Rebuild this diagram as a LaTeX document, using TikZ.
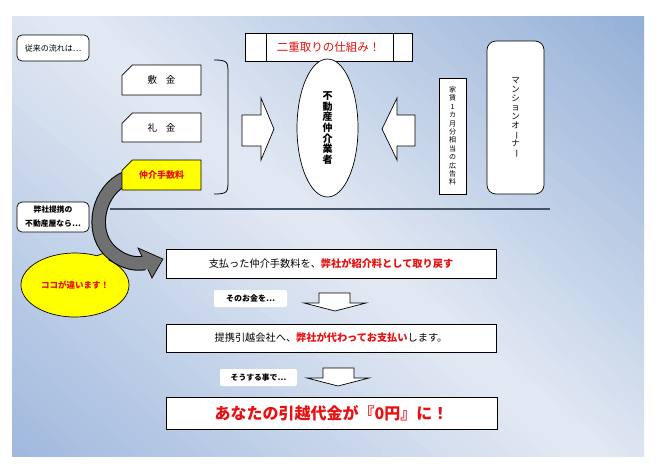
\documentclass[tikz,border=0pt]{standalone}
\usepackage{fontspec}
\usepackage{graphicx}
\setmainfont{Noto Sans CJK JP}
\usetikzlibrary{shapes.misc,shapes.callouts,shapes.geometric}
\definecolor{jred}{RGB}{232,16,16}
\definecolor{bgtop}{RGB}{146,175,214}
\definecolor{bgmid}{RGB}{228,234,244}
\definecolor{bgbot}{RGB}{158,184,221}
\definecolor{linegray}{RGB}{70,84,104}
\definecolor{arrowgray}{RGB}{112,112,112}
\definecolor{hiyellow}{RGB}{255,255,0}
\newcommand{\vbar}{\rotatebox[origin=c]{-90}{ー}}
\newcommand{\fs}[2]{\fontsize{#1}{#2}\selectfont}
\tikzset{
  box/.style={draw=black, fill=white, line width=0.7pt, inner sep=0pt, align=center},
  rbox/.style={box, rounded corners=5pt},
  chbox/.style={box, chamfered rectangle, chamfered rectangle corners=north west,
    chamfered rectangle xsep=15pt, chamfered rectangle ysep=6pt},
  tagbox/.style={fill=white, rounded corners=2pt, inner sep=0pt, align=center},
  blockarrow/.style={draw=black, fill=white, line width=0.7pt, line join=miter},
}
\begin{document}
\begin{tikzpicture}[x=1pt,y=-1pt]
\useasboundingbox (0,0) rectangle (660,467);
% background gradient drawn as strips
\begin{scope}
\clip (12,16) rectangle (644,456);
\foreach \i in {0,...,79}{
  \pgfmathsetmacro{\ta}{-400+10*\i}
  \pgfmathsetmacro{\tb}{\ta+11}
  \pgfmathsetmacro{\tm}{\ta+5}
  \pgfmathtruncatemacro{\p}{max(0,100-abs(\tm)/3.8)}
  \ifdim \tm pt<0pt \colorlet{stripc}{bgmid!\p!bgbot}\else\colorlet{stripc}{bgmid!\p!bgtop}\fi
  \fill[stripc] ({328+\ta*0.643-383},{236-\ta*0.766-321.5}) -- ({328+\ta*0.643+383},{236-\ta*0.766+321.5})
    -- ({328+\tb*0.643+383},{236-\tb*0.766+321.5}) -- ({328+\tb*0.643-383},{236-\tb*0.766-321.5}) -- cycle;
}
\end{scope}

% callout
\node[ellipse callout, draw=black, fill=hiyellow, line width=0.7pt,
  minimum width=108pt, minimum height=64pt, inner sep=0pt,
  callout absolute pointer={(110,251)}, font=\fs{8.5}{10}\bfseries, text=jred]
  (diff) at (75,285) {ココが違います！};

% curved arrow
\coordinate (a0) at (126,178);
\coordinate (a1) at (109,250);
\coordinate (a2) at (145,263);
\coordinate (a3) at (148,262.5);
\coordinate (h1) at (138,248);
\coordinate (h2) at (163,259);
\coordinate (h3) at (152,278);
\draw[line width=14.5pt, black] (a0) .. controls (98,190) and (90,230) .. (a1)
  .. controls (120,261) and (133,265) .. (a2);
\draw[fill=arrowgray, draw=black, line width=0.7pt, line join=miter] (h1) -- (h2) -- (h3) -- cycle;
\draw[line width=12.5pt, arrowgray] (a0) .. controls (98,190) and (90,230) .. (a1)
  .. controls (120,261) and (133,265) .. (a2) -- (a3);

% top-left label
\node[rbox, minimum width=72pt, minimum height=26pt, font=\fs{8}{10}] (flow) at (53,48) {従来の流れは…};

% banner
\node[box, minimum width=167pt, minimum height=28pt, font=\fs{11.5}{13}, text=jred] (banner) at (328.5,47) {二重取りの仕組み！};
\draw[line width=0.7pt] (266,33) -- (266,61);
\draw[line width=0.7pt] (393,33) -- (393,61);

% fee boxes
\node[chbox, minimum width=79pt, minimum height=30pt, font=\fs{9.5}{11}] (shiki) at (161.5,80) {敷\hspace{0.9em}金};
\node[chbox, minimum width=79pt, minimum height=29pt, font=\fs{9.5}{11}] (rei) at (161.5,127.5) {礼\hspace{0.9em}金};
\node[chbox, fill=hiyellow, minimum width=79pt, minimum height=30pt, font=\fs{9}{11}\bfseries, text=jred] (fee) at (161.5,175) {仲介手数料};

% bracket
\coordinate (b0) at (214,60);
\coordinate (b1) at (214,194);
\draw[line width=0.8pt] (b0) .. controls (228,60) and (228,62) .. (228,74) -- (228,180)
  .. controls (228,192) and (228,194) .. (b1);

% block arrows left/right
\draw[blockarrow] (242,115) -- (261,115) -- (261,98) -- (274,129) -- (261,160) -- (261,146) -- (242,146) -- cycle;
\draw[blockarrow] (415,115) -- (397,115) -- (397,98) -- (382,129) -- (397,160) -- (397,146) -- (415,146) -- cycle;

% agent ellipse
\node[ellipse, draw=black, fill=white, line width=0.7pt, inner sep=0pt,
  minimum width=61pt, minimum height=138pt, align=center, font=\fs{10}{10.7}\bfseries]
  (agent) at (327.5,128) {不\\動\\産\\仲\\介\\業\\者};

% ad fee box
\node[box, minimum width=27pt, minimum height=116pt, font=\fs{7}{8.4}] (ad) at (452.5,136)
  {家\\賃\\1\\カ\\月\\分\\相\\当\\の\\広\\告\\料};

% owner
\node[box, rounded corners=9pt, minimum width=57pt, minimum height=153pt, font=\fs{8.5}{9}] (owner) at (515.5,117.5)
  {マ\\ン\\シ\\ョ\\ン\\オ\\\vbar\\ナ\\\vbar};

% divider
\coordinate (d0) at (110,209);
\coordinate (d1) at (550,209);
\draw[linegray, line width=1.3pt] (d0) -- (d1);

% partner label
\node[rbox, minimum width=72pt, minimum height=30pt, font=\fs{7.8}{14}\bfseries] (partner) at (53,217)
  {弊社提携の\\不動産屋なら…};

% lower flow
\node[box, minimum width=330pt, minimum height=29pt, font=\fs{10.2}{12}] (s1) at (331,263.5)
  {支払った仲介手数料を、{\color{jred}\bfseries 弊社が紹介料として取り戻す}};
\node[tagbox, minimum width=73pt, minimum height=17pt, font=\fs{8}{10}\bfseries] (t1) at (250.5,298.5) {そのお金を…};
\draw[blockarrow] (319,293) -- (350,293) -- (350,303) -- (366,303) -- (335,311) -- (304,303) -- (319,303) -- cycle;

\node[box, minimum width=330pt, minimum height=28pt, font=\fs{10.2}{12}] (s2) at (331,338)
  {提携引越会社へ、{\color{jred}\bfseries 弊社が代わってお支払い}します。};
\node[tagbox, minimum width=77pt, minimum height=17pt, font=\fs{7.8}{10}\bfseries] (t2) at (258.5,377.5) {そうする事で…};
\draw[blockarrow] (323,368) -- (354,368) -- (354,378) -- (369,378) -- (338,386) -- (307,378) -- (323,378) -- cycle;

\node[box, minimum width=331pt, minimum height=32pt, font=\fs{16}{18}\bfseries, text=jred] (s3) at (331.5,413)
  {あなたの引越代金が『0円』に！};
\end{tikzpicture}
\end{document}
